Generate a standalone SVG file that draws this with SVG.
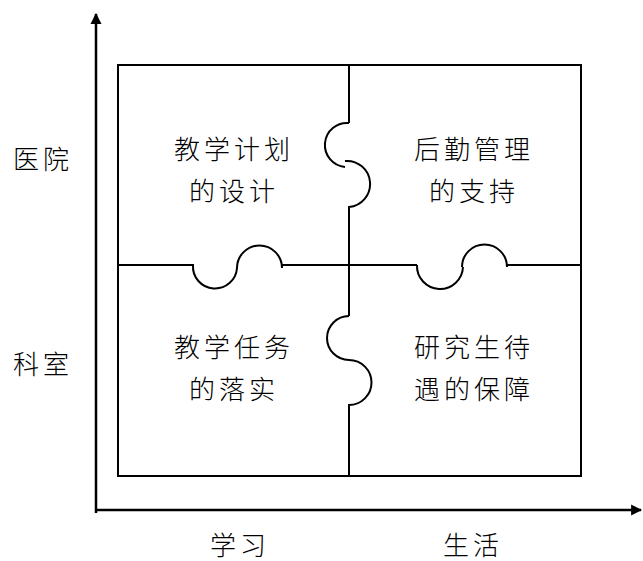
<svg xmlns="http://www.w3.org/2000/svg" width="643" height="561" viewBox="0 0 643 561">
<style>
.t{font-family:"Noto Sans CJK SC","Noto Sans",sans-serif;font-size:26px;font-weight:300;fill:#000;text-anchor:middle;letter-spacing:4px}
.ln{fill:none;stroke:#000;stroke-width:2}
.ax{fill:none;stroke:#000;stroke-width:2.5}
</style>
<defs>
<marker id="ah" viewBox="0 0 10 10" refX="9" refY="5" markerWidth="11" markerHeight="15" markerUnits="userSpaceOnUse" orient="auto">
<path d="M0,0 L10,5 L0,10 Z" fill="#000"/>
</marker>
</defs>
<rect width="643" height="561" fill="#fff"/>
<g id="axes">
<line class="ax" x1="96" y1="513" x2="96" y2="14" marker-end="url(#ah)"/>
<line class="ax" x1="95" y1="510" x2="641" y2="510" marker-end="url(#ah)"/>
</g>
<g id="frame">
<rect class="ln" x="118" y="65" width="463" height="411"/>
</g>
<g id="connectors">
<path class="ln" d="M349,65 L349,123"/>
<path class="ln" d="M349,123 A22,22 0 0 0 345,167"/>
<path class="ln" d="M345,161 A23,23 0 0 1 349,207 L349,316"/>
<path class="ln" d="M349,316 A22,22 0 0 0 349,360"/>
<path class="ln" d="M349,360 A22.5,22.5 0 0 1 349,405 L349,476"/>
<path class="ln" d="M118,265 L193,265 A22,22 0 0 0 237,268"/>
<path class="ln" d="M237,268 A22.5,22.5 0 0 1 282,268 L282,265 L417,265"/>
<path class="ln" d="M417,265 A23,23 0 0 0 463,267"/>
<path class="ln" d="M462,267 A22.5,22.5 0 0 1 507,267 L507,265 L581,265"/>
</g>
<g id="n1">
<text class="t" x="234" y="159">教学计划</text>
<text class="t" x="234" y="201">的设计</text>
</g>
<g id="n2">
<text class="t" x="474" y="159">后勤管理</text>
<text class="t" x="474" y="201">的支持</text>
</g>
<g id="n3">
<text class="t" x="234" y="357">教学任务</text>
<text class="t" x="234" y="399">的落实</text>
</g>
<g id="n4">
<text class="t" x="474" y="357">研究生待</text>
<text class="t" x="474" y="399">遇的保障</text>
</g>
<g id="labels">
<text class="t" x="43" y="169">医院</text>
<text class="t" x="43" y="374">科室</text>
<text class="t" x="240" y="555">学习</text>
<text class="t" x="473" y="555">生活</text>
</g>
</svg>
